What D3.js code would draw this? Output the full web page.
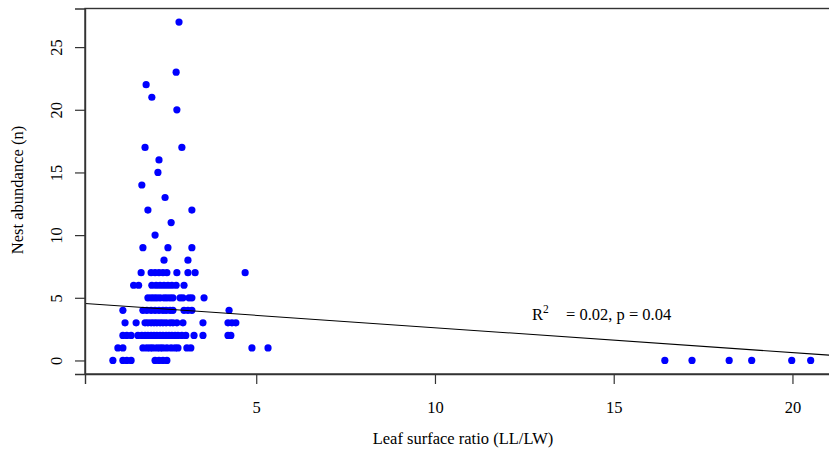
<!DOCTYPE html>
<html>
<head>
<meta charset="utf-8">
<script src="https://cdn.jsdelivr.net/npm/d3@7/dist/d3.min.js"></script>
<style>
  html, body { margin: 0; padding: 0; background: #fff; overflow: hidden; }
  svg { display: block; }
  text { font-family: "Liberation Serif", "Times New Roman", serif; fill: #000; }
</style>
</head>
<body>
<svg id="chart" width="829" height="452"></svg>
<script>
// Nest abundance (n) categories and the leaf surface ratios observed at each
const nestCounts = [0, 1, 2, 3, 4, 5, 6, 7, 8, 9, 10, 11, 12, 13, 14, 15, 16, 17, 20, 21, 22, 23, 27];
const ratiosAt0  = [0.99, 1.27, 1.38, 1.50, 2.17, 2.28, 2.39, 2.50, 16.43, 17.19, 18.23, 18.86, 19.98, 20.51];
const ratiosAt1  = [1.13, 1.27, 1.83, 1.94, 2.03, 2.11, 2.22, 2.31, 2.39, 2.50, 2.62, 2.73, 2.81, 3.06, 3.17, 4.88, 5.33];
const ratiosAt2  = [1.27, 1.38, 1.50, 1.69, 1.80, 1.89, 1.97, 2.06, 2.14, 2.22, 2.31, 2.39, 2.48, 2.56, 2.64, 2.73, 2.81, 2.92, 3.03, 3.26, 3.51, 4.21, 4.29];
const ratiosAt3  = [1.33, 1.64, 1.89, 1.97, 2.06, 2.14, 2.22, 2.31, 2.39, 2.48, 2.59, 2.67, 2.78, 2.95, 3.51, 4.21, 4.32, 4.43];
const ratiosAt4  = [1.27, 1.83, 1.94, 2.06, 2.17, 2.28, 2.39, 2.48, 2.59, 2.67, 2.98, 3.09, 3.20, 4.24];
const ratiosAt5  = [1.97, 2.06, 2.14, 2.22, 2.31, 2.42, 2.50, 2.59, 2.67, 2.87, 2.95, 3.12, 3.20, 3.54];
const ratiosAt6  = [1.57, 1.71, 2.08, 2.20, 2.31, 2.42, 2.53, 2.64, 2.76, 2.98];
const ratiosAt7  = [1.78, 2.06, 2.17, 2.28, 2.39, 2.50, 2.78, 3.09, 3.29, 4.69];
const ratiosAt8  = [2.42, 3.09];
const ratiosAt9  = [1.83, 2.53, 3.20];
const ratiosAt10 = [2.17];
const ratiosAt11 = [2.62];
const ratiosAt12 = [1.97, 3.20];
const ratiosAt13 = [2.45];
const ratiosAt14 = [1.80];
const ratiosAt15 = [2.25];
const ratiosAt16 = [2.28];
const ratiosAt17 = [1.89, 2.92];
const ratiosAt20 = [2.78];
const ratiosAt21 = [2.08];
const ratiosAt22 = [1.92];
const ratiosAt23 = [2.76];
const ratiosAt27 = [2.84];

const ratioGroups = [ratiosAt0, ratiosAt1, ratiosAt2, ratiosAt3, ratiosAt4, ratiosAt5, ratiosAt6,
  ratiosAt7, ratiosAt8, ratiosAt9, ratiosAt10, ratiosAt11, ratiosAt12, ratiosAt13, ratiosAt14,
  ratiosAt15, ratiosAt16, ratiosAt17, ratiosAt20, ratiosAt21, ratiosAt22, ratiosAt23, ratiosAt27];

// Fitted linear model
const fitIntercept = 4.59;
const fitSlope = -0.198;

const xTicks = [5, 10, 15, 20];
const yTicks = [0, 5, 10, 15, 20, 25];
const statLabel = "= 0.02, p = 0.04";

(function () {
const points = [];
nestCounts.forEach((n, i) => ratioGroups[i].forEach(r => points.push({ x: r, y: n })));

const svg = d3.select("#chart");
const pLeft = 85, pRight = 840, pTop = 8.5, pBottom = 374;

const xs = d3.scaleLinear().domain([0.21, 21.33]).range([pLeft, pRight]);
const ys = d3.scaleLinear().domain([-1.08, 28.08]).range([pBottom, pTop]);

svg.append("clipPath").attr("id", "plotclip")
  .append("rect").attr("x", pLeft).attr("y", pTop).attr("width", pRight - pLeft).attr("height", pBottom - pTop);

// points
svg.append("g").selectAll("circle").data(points).join("circle")
  .attr("cx", d => xs(d.x)).attr("cy", d => ys(d.y)).attr("r", 3.6)
  .attr("fill", "#0000ff");

// regression line
const [x0, x1] = xs.domain();
svg.append("line")
  .attr("clip-path", "url(#plotclip)")
  .attr("x1", xs(x0)).attr("y1", ys(fitIntercept + fitSlope * x0))
  .attr("x2", xs(x1)).attr("y2", ys(fitIntercept + fitSlope * x1))
  .attr("stroke", "#000").attr("stroke-width", 1.1);

// box
svg.append("rect").attr("x", pLeft).attr("y", pTop).attr("width", pRight - pLeft).attr("height", pBottom - pTop)
  .attr("fill", "none").attr("stroke", "#333").attr("stroke-width", 1.4);

// axes
const xAxis = d3.axisBottom(xs).tickValues(xTicks).tickSize(10).tickPadding(17).tickFormat(d3.format("d"));
const gx = svg.append("g").attr("transform", `translate(0,${pBottom})`).call(xAxis);
gx.select(".domain").attr("stroke", "#333").attr("stroke-width", 1.4);
gx.selectAll(".tick line").attr("stroke", "#333").attr("stroke-width", 1.2);
gx.selectAll(".tick text").attr("font-size", 16.5).attr("font-family", "Liberation Serif");

const yAxis = d3.axisLeft(ys).tickValues(yTicks).tickSize(10).tickFormat(d3.format("d"));
const gy = svg.append("g").attr("transform", `translate(${pLeft},0)`).call(yAxis);
gy.select(".domain").attr("stroke", "#333").attr("stroke-width", 1.4);
gy.selectAll(".tick line").attr("stroke", "#333").attr("stroke-width", 1.2);
gy.selectAll(".tick text").remove();
gy.selectAll(".tick").append("text")
  .attr("transform", "translate(-23,0) rotate(-90)")
  .attr("text-anchor", "middle")
  .attr("font-size", 16.5)
  .attr("font-family", "Liberation Serif")
  .text(d => d);

// axis titles
svg.append("text").attr("x", 463).attr("y", 444).attr("text-anchor", "middle")
  .attr("font-size", 16.5).text("Leaf surface ratio (LL/LW)");
svg.append("text").attr("transform", "translate(23,190) rotate(-90)").attr("text-anchor", "middle")
  .attr("font-size", 16.5).text("Nest abundance (n)");

// annotation
const ann = svg.append("text").attr("x", 532).attr("y", 320).attr("font-size", 16.5);
ann.append("tspan").text("R");
ann.append("tspan").attr("dy", -7).attr("font-size", 11.5).text("2");
svg.append("text").attr("x", 566).attr("y", 320).attr("font-size", 16.5).text(statLabel);
})();
</script>
</body>
</html>
